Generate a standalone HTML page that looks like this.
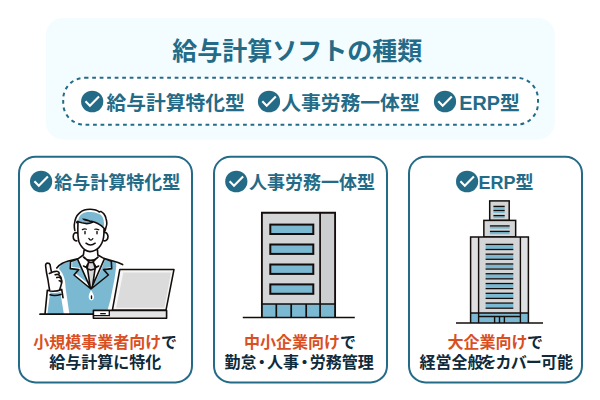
<!DOCTYPE html>
<html lang="ja">
<head>
<meta charset="utf-8">
<title>給与計算ソフトの種類</title>
<style>
html,body{margin:0;padding:0;background:#fff;}
body{width:600px;height:400px;position:relative;overflow:hidden;font-family:"Liberation Sans",sans-serif;}
.t{position:absolute;color:transparent;font-weight:bold;white-space:nowrap;overflow:hidden;line-height:1.2;user-select:none;}
svg text{font-family:"Liberation Sans","Noto Sans CJK JP",sans-serif;font-weight:bold;}
</style>
</head>
<body>
<svg width="600" height="400" viewBox="0 0 600 400" style="position:absolute;left:0;top:0">
<rect x="46" y="18" width="508.8" height="121.4" rx="17" fill="#f3fcff"/>
<rect x="63.2" y="77.8" width="474.8" height="46.9" rx="21.5" fill="#fff" stroke="#246b88" stroke-width="2" stroke-dasharray="3.75 3.75"/>
<text x="172.3" y="60" font-size="25" fill="#246b88">給与計算ソフトの種類</text>
<ellipse cx="92.20" cy="101.5" rx="11.1" ry="10.8" fill="#246b88"/>
<path d="M85.50 101.25 L89.90 105.65 L99.00 96.45" fill="none" stroke="#fff" stroke-width="2.1"/>
<text x="106.4" y="109.6" font-size="19.8" fill="#246b88">給与計算特化型</text>
<ellipse cx="269.00" cy="101.5" rx="11.1" ry="10.8" fill="#246b88"/>
<path d="M262.30 101.25 L266.70 105.65 L275.80 96.45" fill="none" stroke="#fff" stroke-width="2.1"/>
<text x="281.2" y="109.6" font-size="19.8" fill="#246b88">人事労務一体型</text>
<ellipse cx="445.00" cy="101.5" rx="11.1" ry="10.8" fill="#246b88"/>
<path d="M438.30 101.25 L442.70 105.65 L451.80 96.45" fill="none" stroke="#fff" stroke-width="2.1"/>
<text x="459.3" y="109.5" font-size="19.8" fill="#246b88">ERP型</text>
<rect x="19" y="156.8" width="173" height="225.6" rx="16.5" fill="#fff" stroke="#246b88" stroke-width="2"/>
<rect x="214" y="156.8" width="173" height="225.6" rx="16.5" fill="#fff" stroke="#246b88" stroke-width="2"/>
<rect x="409" y="156.8" width="173" height="225.6" rx="16.5" fill="#fff" stroke="#246b88" stroke-width="2"/>
<ellipse cx="41.10" cy="181.5" rx="11.1" ry="10.8" fill="#246b88"/>
<path d="M34.40 181.25 L38.80 185.65 L47.90 176.45" fill="none" stroke="#fff" stroke-width="2.1"/>
<text x="54.3" y="189" font-size="18" fill="#246b88">給与計算特化型</text>
<ellipse cx="236.30" cy="181.5" rx="11.1" ry="10.8" fill="#246b88"/>
<path d="M229.60 181.25 L234.00 185.65 L243.10 176.45" fill="none" stroke="#fff" stroke-width="2.1"/>
<text x="248.9" y="189" font-size="18" fill="#246b88">人事労務一体型</text>
<ellipse cx="467.10" cy="181.5" rx="11.1" ry="10.8" fill="#246b88"/>
<path d="M460.40 181.25 L464.80 185.65 L473.90 176.45" fill="none" stroke="#fff" stroke-width="2.1"/>
<text x="478.4" y="189" font-size="18" fill="#246b88">ERP型</text>
<text x="33.33" y="347.7" font-size="16" fill="#da4f22">小規模事業者向け</text>
<text x="160.92" y="347.7" font-size="16" fill="#0f2a3a">で</text>
<text x="49.3" y="367.8" font-size="16" fill="#0f2a3a">給与計算に特化</text>
<text x="244.1" y="347.6" font-size="16" fill="#da4f22">中小企業向け</text>
<text x="340.1" y="347.6" font-size="16" fill="#0f2a3a">で</text>
<text y="367.8" font-size="16" fill="#0f2a3a"><tspan x="224.54">勤怠</tspan><tspan x="253.82">・</tspan><tspan x="267.1">人事</tspan><tspan x="296.38">・</tspan><tspan x="309.7">労務管理</tspan></text>
<text x="447.5" y="347.6" font-size="16" fill="#da4f22">大企業向け</text>
<text x="527" y="347.6" font-size="16" fill="#0f2a3a">で</text>
<text y="367.8" font-size="16" fill="#0f2a3a"><tspan x="419.45">経営全般</tspan><tspan x="480.45" letter-spacing="-0.9">をカバー</tspan><tspan x="540.95">可能</tspan></text>
<g><rect x="261.9" y="212.75" width="73.2" height="104.85" fill="#d4d5d6"/><rect x="320.1" y="212.75" width="15" height="91.3" fill="#cdcecf"/><rect x="261.9" y="304" width="73.2" height="13.6" fill="#7bb9d3"/><path d="M261.9 317.6V212.75H335.1V317.6" fill="none" stroke="#130d0b" stroke-width="1.85"/><path d="M320.1 212.75V317.6M261.9 304H335.1M276.3 304V317.6M291.2 304V317.6M306.2 304V317.6" stroke="#130d0b" stroke-width="1.7" fill="none"/><rect x="270.3" y="224.6" width="43" height="9.4" fill="#7bb9d3" stroke="#130d0b" stroke-width="2"/><rect x="270.3" y="244.5" width="43" height="9.4" fill="#7bb9d3" stroke="#130d0b" stroke-width="2"/><rect x="270.3" y="264.5" width="43" height="9.4" fill="#7bb9d3" stroke="#130d0b" stroke-width="2"/><rect x="270.3" y="284.4" width="43" height="9.4" fill="#7bb9d3" stroke="#130d0b" stroke-width="2"/><path d="M242.8 317.6H354.8" stroke="#130d0b" stroke-width="1.5"/></g>
<g><rect x="489.7" y="200.9" width="19.5" height="19.5" fill="#d4d5d6" stroke="#130d0b" stroke-width="1.5"/><rect x="493.4" y="207.0" width="11.3" height="1.9" fill="#7bb9d3"/><path d="M493.4 206.4H504.7" stroke="#130d0b" stroke-width="1.35"/><rect x="493.4" y="211.0" width="11.3" height="1.9" fill="#7bb9d3"/><path d="M493.4 210.4H504.7" stroke="#130d0b" stroke-width="1.35"/><rect x="493.4" y="216.2" width="11.3" height="1.9" fill="#7bb9d3"/><path d="M493.4 215.6H504.7" stroke="#130d0b" stroke-width="1.35"/><rect x="483.85" y="220.4" width="31.8" height="16.6" fill="#d4d5d6" stroke="#130d0b" stroke-width="1.5"/><rect x="489.9" y="226.5" width="19.8" height="2.2" fill="#7bb9d3"/><path d="M489.9 225.9H509.7" stroke="#130d0b" stroke-width="1.35"/><rect x="489.9" y="232.0" width="19.8" height="2.2" fill="#7bb9d3"/><path d="M489.9 231.4H509.7" stroke="#130d0b" stroke-width="1.35"/><rect x="470.6" y="237" width="57.8" height="86" fill="#dfe0e1"/><rect x="478.6" y="237" width="42" height="76" fill="#d4d5d6"/><rect x="470.6" y="313" width="57.8" height="10" fill="#7bb9d3"/><rect x="485.6" y="244.90" width="27.7" height="4.1" fill="#7bb9d3"/><path d="M485.6 244.40H513.3" stroke="#130d0b" stroke-width="1.3"/><path d="M485.6 249.50H513.3" stroke="#130d0b" stroke-width="1.3"/><rect x="485.6" y="254.68" width="27.7" height="4.1" fill="#7bb9d3"/><path d="M485.6 254.18H513.3" stroke="#130d0b" stroke-width="1.3"/><path d="M485.6 259.28H513.3" stroke="#130d0b" stroke-width="1.3"/><rect x="485.6" y="264.46" width="27.7" height="4.1" fill="#7bb9d3"/><path d="M485.6 263.96H513.3" stroke="#130d0b" stroke-width="1.3"/><path d="M485.6 269.06H513.3" stroke="#130d0b" stroke-width="1.3"/><rect x="485.6" y="274.24" width="27.7" height="4.1" fill="#7bb9d3"/><path d="M485.6 273.74H513.3" stroke="#130d0b" stroke-width="1.3"/><path d="M485.6 278.84H513.3" stroke="#130d0b" stroke-width="1.3"/><rect x="485.6" y="284.02" width="27.7" height="4.1" fill="#7bb9d3"/><path d="M485.6 283.52H513.3" stroke="#130d0b" stroke-width="1.3"/><path d="M485.6 288.62H513.3" stroke="#130d0b" stroke-width="1.3"/><rect x="485.6" y="293.80" width="27.7" height="4.1" fill="#7bb9d3"/><path d="M485.6 293.30H513.3" stroke="#130d0b" stroke-width="1.3"/><path d="M485.6 298.40H513.3" stroke="#130d0b" stroke-width="1.3"/><rect x="485.6" y="303.58" width="27.7" height="4.1" fill="#7bb9d3"/><path d="M485.6 303.08H513.3" stroke="#130d0b" stroke-width="1.3"/><path d="M485.6 308.18H513.3" stroke="#130d0b" stroke-width="1.3"/><path d="M470.6 323V237H528.4V323" fill="none" stroke="#130d0b" stroke-width="1.5"/><path d="M478.6 237V323M520.4 237V323M470.6 313H528.4M478.6 316.5H520.4M494.6 316.5V323M499.5 316.5V323M504.4 316.5V323" stroke="#130d0b" stroke-width="1.4" fill="none"/><path d="M456 323H543" stroke="#130d0b" stroke-width="1.4"/></g>
<g><path fill="#7bb9d3" d="M78 221.2C78.5 218 79.5 216.5 80.4 215.2C82 213.5 83.5 212.8 85.2 212.4C87.5 211.8 89.5 211.8 91.6 212C94 212.3 96 212.8 98 213.6C99.5 214.2 100.5 214.6 101.2 215.2C102.5 216.5 103.2 218 103.6 220C104 222 104.1 224 104 225.6L102.8 227.2C101.8 226 100.8 225 99.6 224C97.5 222.8 95.5 222 93.2 221.6C91 222.6 89 223.2 86.8 223.4C85 223.2 83.5 222.6 82 222C80.5 221.6 79.2 221.3 78 221.2Z"/>
<path fill="#7bb9d3" d="M58.8 268.8C60 266.5 61 265 62.4 264C65 262.6 68 261.6 70.4 260.8L77.5 259L91 262L104.5 258.6L116 262.6L116.3 266L114.5 279L110.4 300L107.6 310L93.4 310L93.4 314.2L69.4 314.2L65.6 288C65.4 285 65.2 282.5 64.8 280C64.2 277.6 63.4 275.6 62.4 273.6C61.4 271.8 60.2 270.2 58.8 268.8Z"/>
<path fill="#7bb9d3" d="M50.4 292.3Q55 293.6 60.3 292L63.9 314.2L47.3 314.2L49.5 297.5Z"/>
<path fill="#fff" d="M77.3 258.6L83.8 254L97.3 254L104.7 258.4L91 289.4Z"/>
<clipPath id="lapL"><path d="M77.5 259L70.6 261.5L70.3 268.6L78.7 269.6L74 275L91 289Z"/></clipPath>
<clipPath id="lapR"><path d="M104.5 258.6L111.3 261.3L111.7 268.6L103.6 269.6L108.4 275L91 289Z"/></clipPath>
<path fill="#fff" d="M77.5 259L70.6 261.5L70.3 268.6L78.7 269.6L74 275L91 289Z"/>
<path fill="#fff" d="M104.5 258.6L111.3 261.3L111.7 268.6L103.6 269.6L108.4 275L91 289Z"/>
<g clip-path="url(#lapL)"><path fill="#7bb9d3" transform="translate(1.8 -1.6)" d="M77.5 259L70.6 261.5L70.3 268.6L78.7 269.6L74 275L91 289L92 280Z"/></g>
<g clip-path="url(#lapR)"><path fill="#7bb9d3" transform="translate(1.6 -1.6)" d="M104.5 258.6L111.3 261.3L111.7 268.6L103.6 269.6L108.4 275L91 289L100 270Z"/></g>
<path fill="#d7d8d9" d="M88.5 262.4L93.5 262.4L95.4 268.8L94.9 269.6L92.4 287.5L90.2 287.5L87.7 269.6L87 268.8Z"/>
<path fill="#fff" d="M91 290C90 292.5 88.6 294.6 88.7 296.8C88.8 299 90 300.4 91.4 300.4C92.9 300.4 94 299 94 296.8C94 294.6 92.2 292.5 91 290Z"/>
<path fill="none" stroke="#130d0b" stroke-width="1.6" stroke-linecap="round" stroke-linejoin="round" d="M74.8 230.4C74.2 228 74.2 226 74.4 224C74.7 221.5 75.2 219.5 76 217.6C77 215.5 78.2 214 79.6 212.8C81 211.5 82.6 210.6 84.4 210C86.2 209.4 88 209.2 90 209.2C92 209.2 93.8 209.5 95.6 210C97 210.5 98.2 211 99.2 211.8M99.2 212C100 211.4 100.6 211.4 101.2 211.6C102.4 212.2 103.3 213 104 214C105 215.4 105.6 216.8 106 218.4C106.5 220 106.8 221.6 106.8 223.2C106.8 224.6 106.5 226 106 227.2L105.2 230.4M76.8 222.6L77.2 221.2C78.8 221.8 80.4 222.3 82 222.8C83.6 223.2 85.2 223.5 86.8 223.6C88.7 223.6 90.5 223.3 92.4 222.4M91.6 221.2C93.6 221.8 95.5 222.4 97.2 223.2C98.7 223.9 100 224.7 101.2 225.6C102.4 226.6 103.4 227.6 104.4 228.8M78 222.5C77.8 227 77.8 232 78 235.6C78.2 237.6 78.4 239.5 78.8 241.2C79.4 243.2 80.4 245 81.6 246.4C82.7 247.8 83.9 249 85.2 250C86.7 251 88.3 251.6 90 251.6C91.8 251.6 93.4 251.2 94.8 250.4C96.3 249.7 97.6 248.8 98.8 247.6C100.1 246.2 101.2 244.6 102 242.8C102.8 241 103.3 239.2 103.6 237.2C103.9 235 104 233 104 229M77.2 232.9C75.2 232 73.4 233.4 73.2 236.4C73.2 239 74.6 241.2 76.8 240.8M104 232.6C105.8 231.8 107.8 233.4 108 236.4C108 239 106.4 241.2 104.2 240.8M84 250.6L83.4 255L78.2 258.6M97.5 250L97.8 255L103.8 258.4M83.6 257.2C85.6 259.2 88.2 260.2 90.8 260.2C93.4 260.2 96 259.2 98 257.2M84 257L89 261.9L86 267.4L83.6 266M97.6 257.2L93 261.9L96.2 267.4L98.6 266M77.5 259L70.6 261.5L70.3 268.6L78.7 269.6L74 275L91 289L108.4 275L103.6 269.6L111.7 268.6L111.3 261.3L104.5 258.6M77.5 259L90.6 288.4M104.5 258.6L91.4 288.4M88.5 262.4L93.5 262.4L95.4 268.8L91 270L87 268.8ZM87.7 269.8L90.2 287.2M94.9 269.8L92.4 287.2M77.5 258.8C72 260 66 261.5 62.4 263.2C60 264.5 58 266.2 56.8 268M104.5 258.4L118 262.6L122.6 264.6M49.6 290L49.2 288L48 280L46.4 272L45.6 265.6C45.6 263.6 46.8 263 47.6 263.1C49 263.1 49.8 263.8 50 264.4L50.8 268.8L51.6 272.6M49.4 273.4C51 272.8 53 272 54.4 271.6C56 271.2 57.5 271.2 58 271.6C58.8 272 59.2 272.6 59.2 273.4M55.2 274.8C57 274 59 274.5 60 276C61 277 61.5 278 61.2 279.2C62 280.5 62 282 61.6 283.2C61.3 285 60.5 287 59.8 289.4M56.8 277.6C58.5 277 60.5 277.8 61.2 279.2M59.2 280.8C60.5 280.8 61.6 282 61.6 283.2M47.3 290.3L45 314.2M47.3 290.3Q54 292.6 61.7 289.4L63 297.6M50 294.8Q55 296.3 60.8 294.4"/>
<path fill="#130d0b" d="M82 218.4C85.5 218.2 89.5 219.4 93 221.8C92.4 222.6 91.4 222.8 90.4 222.6C89.6 221.8 88 221.2 86.4 221C84.6 220.6 83 219.8 82 218.4Z"/>
<path fill="none" stroke="#130d0b" stroke-width="1.2" stroke-linecap="round" d="M82.4 229.6Q84.4 228.5 86.4 229.2M94.8 229.3Q96.8 228.7 98.8 229.8M88.8 238.4Q90.8 241.8 92.8 238.6"/>
<path fill="none" stroke="#130d0b" stroke-width="1.4" stroke-linecap="round" d="M85 231.5V233.7M97 231.5V233.7M91.5 296V298.6"/>
<path fill="none" stroke="#130d0b" stroke-width="1.5" stroke-linecap="round" d="M86 243.2Q90.4 246.6 95.2 243.2"/>
<path d="M40 314.2H93.6" stroke="#130d0b" stroke-width="1.7" stroke-linecap="round"/>
<path fill="#f5f5f5" stroke="#130d0b" stroke-width="1.55" stroke-linejoin="round" d="M119.8 269.4L174 269.4L166 310.2L112.4 310.2Z"/>
<path fill="#dbdbdc" d="M123.3 272.6L171 272.6L164.3 307.8L116.2 307.8Z"/>
<rect x="93.4" y="310.4" width="73.2" height="7.8" fill="#e5e5e6"/>
<rect x="93.4" y="310.4" width="15.9" height="7.8" fill="#fff"/>
<path d="M93.4 310.4H166.6V318.2H93.4Z" fill="none" stroke="#130d0b" stroke-width="1.6" stroke-linejoin="round"/>
<path d="M109.3 310.4V315.6H93.4" fill="none" stroke="#130d0b" stroke-width="1.3"/>
<rect x="100.2" y="313" width="5.6" height="1.3" fill="#130d0b"/></g>
</svg>
<div class="t" style="left:46px;top:34px;width:508px;font-size:25px;text-align:center;">給与計算ソフトの種類</div>
<div class="t" style="left:80px;top:90px;width:170px;font-size:20px;">✔給与計算特化型</div>
<div class="t" style="left:257px;top:90px;width:170px;font-size:20px;">✔人事労務一体型</div>
<div class="t" style="left:433px;top:90px;width:100px;font-size:20px;">✔ERP型</div>
<div class="t" style="left:19px;top:170px;width:173px;font-size:20px;text-align:center;">✔給与計算特化型</div>
<div class="t" style="left:214px;top:170px;width:173px;font-size:20px;text-align:center;">✔人事労務一体型</div>
<div class="t" style="left:409px;top:170px;width:173px;font-size:20px;text-align:center;">✔ERP型</div>
<div class="t" style="left:19px;top:332px;width:173px;font-size:16px;text-align:center;line-height:19.5px;">小規模事業者向けで<br>給与計算に特化</div>
<div class="t" style="left:214px;top:332px;width:173px;font-size:16px;text-align:center;line-height:19.5px;">中小企業向けで<br>勤怠・人事・労務管理</div>
<div class="t" style="left:409px;top:332px;width:173px;font-size:16px;text-align:center;line-height:19.5px;">大企業向けで<br>経営全般をカバー可能</div>
</body>
</html>
